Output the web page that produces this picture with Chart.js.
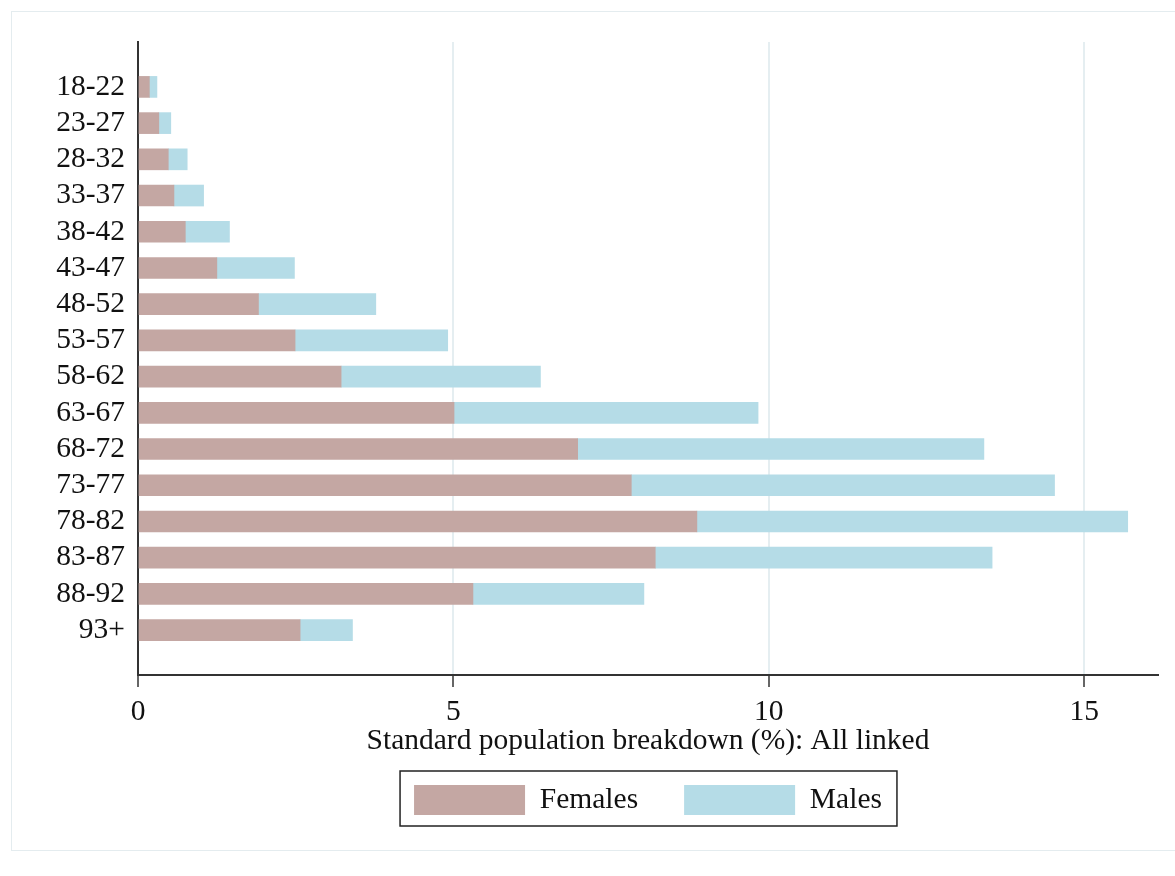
<!DOCTYPE html>
<html>
<head>
<meta charset="utf-8">
<script src="https://cdn.jsdelivr.net/npm/chart.js@4"></script>
<style>
  html, body { margin: 0; padding: 0; background: #fff; }
  #wrap { position: relative; width: 1175px; height: 876px; overflow: hidden; }
  #frame { position: absolute; left: 11px; top: 11px; width: 1200px; height: 838px; border: 1px solid #e4ecef; }
  #wrap canvas { position: absolute; left: 0; top: 0; }
</style>
</head>
<body>
<div id="wrap">
  <div id="frame"></div>
  <canvas id="chart" width="1175" height="876"></canvas>
</div>
<script>
// age groups, top to bottom
const ageGroups = ["18-22", "23-27", "28-32", "33-37", "38-42", "43-47", "48-52", "53-57",
  "58-62", "63-67", "68-72", "73-77", "78-82", "83-87", "88-92", "93+"];

// standard population breakdown (%)
const females = [0.18, 0.33, 0.48, 0.57, 0.75, 1.25, 1.91, 2.49, 3.22, 5.01, 6.97, 7.82, 8.86, 8.20, 5.31, 2.57];
const males   = [0.12, 0.19, 0.30, 0.47, 0.70, 1.23, 1.86, 2.42, 3.16, 4.82, 6.44, 6.71, 6.83, 5.34, 2.71, 0.83];

const xTicks = [0, 5, 10, 15];

const FEMALE_COLOR = "#c4a7a3";
const MALE_COLOR = "#b5dce7";
const SERIF = "'Liberation Serif', 'Times New Roman', serif";
const FONT_SIZE = 29.5;

Chart.defaults.font.family = SERIF;
Chart.defaults.font.size = FONT_SIZE;
Chart.defaults.color = "#111";

// centre the legend on the plot area and box it like the original
const legendBox = {
  id: "legendBox",
  afterLayout(chart) {
    const lg = chart.legend, ca = chart.chartArea;
    const pad = lg.options.labels.padding;
    lg.left = ca.left;
    lg.right = ca.right;
    lg.top = 785 - pad;
    lg.bottom = 785 + 30 + 20;
  },
  afterDraw(chart) {
    const hb = chart.legend.legendHitBoxes;
    if (!hb || !hb.length) return;
    const first = hb[0], last = hb[hb.length - 1];
    const ctx = chart.ctx;
    ctx.save();
    ctx.strokeStyle = "#222";
    ctx.lineWidth = 1.5;
    const x0 = first.left - 14, x1 = last.left + last.width + 15;
    ctx.strokeRect(x0, first.top - 14, x1 - x0, first.height + 25);
    ctx.restore();
  }
};

function init() {
  const ctx = document.getElementById("chart").getContext("2d");
  new Chart(ctx, {
    type: "bar",
    data: {
      datasets: [
        {
          label: "Females",
          data: ageGroups.map((g, i) => ({ y: i, x: females[i] })),
          backgroundColor: FEMALE_COLOR,
          borderWidth: 0
        },
        {
          label: "Males",
          data: ageGroups.map((g, i) => ({ y: i, x: males[i] })),
          backgroundColor: MALE_COLOR,
          borderWidth: 0
        }
      ]
    },
    options: {
      indexAxis: "y",
      responsive: false,
      animation: false,
      barThickness: 21,
      layout: { padding: { top: 42, right: 17, bottom: 45, left: 0 } },
      plugins: {
        tooltip: { enabled: false },
        legend: {
          position: "bottom",
          maxHeight: 60,
          labels: {
            boxWidth: 111,
            boxHeight: 30,
            padding: 46,
            color: "#111",
            font: { size: FONT_SIZE, family: SERIF }
          }
        }
      },
      scales: {
        x: {
          type: "linear",
          stacked: true,
          min: 0,
          max: 16.17,
          afterBuildTicks: s => { s.ticks = xTicks.map(v => ({ value: v })); },
          afterFit: s => { s.height = 96; },
          grid: {
            color: c => (c.tick && c.tick.value === 0 ? "rgba(0,0,0,0)" : "#e5eef1"),
            lineWidth: 2,
            tickColor: "#333",
            tickLength: 12,
            tickWidth: 1.5
          },
          border: { color: "#333", width: 2 },
          ticks: { padding: 8, color: "#111", font: { size: FONT_SIZE } },
          title: {
            display: true,
            text: "Standard population breakdown (%): All linked",
            color: "#111",
            font: { size: FONT_SIZE },
            padding: { top: 0, bottom: 12 }
          }
        },
        y: {
          type: "linear",
          stacked: true,
          reverse: true,
          offset: false,
          min: -1.24,
          max: ageGroups.length - 1 + 1.24,
          afterBuildTicks: s => { s.ticks = ageGroups.map((g, i) => ({ value: i })); },
          afterFit: s => { s.width = 138; },
          grid: { display: false, drawTicks: false, offset: false },
          border: { color: "#333", width: 2 },
          ticks: {
            padding: 13,
            color: "#111",
            font: { size: FONT_SIZE },
            callback: v => ageGroups[v]
          }
        }
      }
    },
    plugins: [legendBox]
  });
}

document.addEventListener("DOMContentLoaded", init);
</script>
</body>
</html>
